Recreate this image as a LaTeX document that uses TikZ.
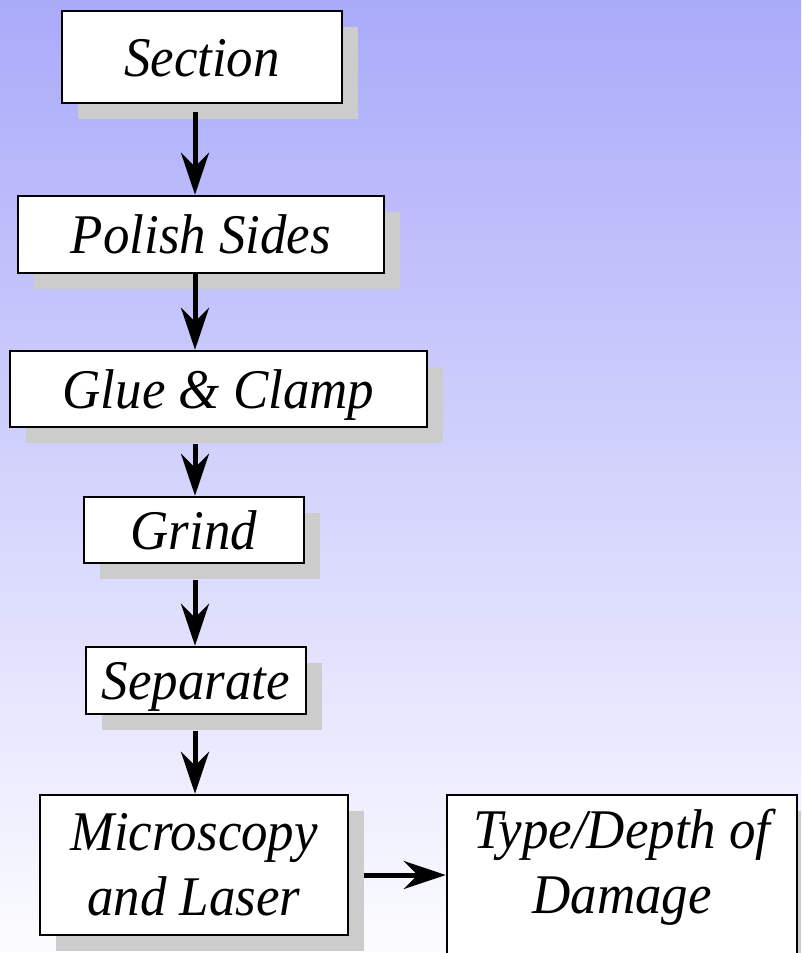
\documentclass[tikz,border=0pt]{standalone}
\usepackage{fontspec}
\setmainfont{Liberation Serif}[FakeStretch=0.945]
\usetikzlibrary{arrows.meta,shadows,calc}
\definecolor{bgtop}{RGB}{170,170,250}
\definecolor{bgbottom}{RGB}{252,252,255}
\definecolor{shadowgray}{RGB}{204,204,204}

\begin{document}
\begin{tikzpicture}[x=1pt, y=-1pt,
    stage/.style={draw, line width=2.5pt, fill=white, inner sep=0pt, align=center,
        font=\fontsize{56}{65}\selectfont\itshape,
        general shadow={fill=shadowgray, shadow xshift=16pt, shadow yshift=-16pt}},
    oneline/.style={text height=50pt, text depth=12pt},
    flow/.style={line width=5pt, -{Stealth[length=42pt, width=28pt, inset=14pt]}}]
    \useasboundingbox (0,0) rectangle (801,953);
    \clip (0,0) rectangle (801,953);
    \shade[top color=bgtop, bottom color=bgbottom] (0,0) rectangle (801,953);

    % the steps
    \node[stage, oneline, minimum width=280pt, minimum height=92pt] (sec) at (202,57) {Section};
    \node[stage, oneline, minimum width=366pt, minimum height=77pt] (pol) at (201,234.5) {Polish Sides};
    \node[stage, oneline, minimum width=417pt, minimum height=76pt] (glue) at (218.5,389) {Glue \& Clamp};
    \node[stage, oneline, minimum width=220pt, minimum height=66pt] (grind) at (194,530) {Grind};
    \node[stage, oneline, minimum width=220pt, minimum height=67pt] (sep) at (196,680.5) {Separate};
    \node[stage, minimum width=308pt, minimum height=140pt] (mic) at (194,865) {Microscopy\\and Laser};
    \node[stage, minimum width=350pt, minimum height=180pt, text height=100pt, text depth=44pt]
        (type) at (622,885) {Type/Depth of\\Damage};

    % arrows
    \coordinate (spine) at (195,0);
    \foreach \a/\b/\gap in {sec/pol/8, pol/glue/0, glue/grind/16, grind/sep/16, sep/mic/16} {
        \draw[flow] ($(\a.south -| spine)+(0,\gap)$) -- (\b.north -| spine);
    }
    \draw[flow] ($(mic.east)+(15,10)$) -- ($(type.west |- mic.east)+(0,10)$);
\end{tikzpicture}
\end{document}
